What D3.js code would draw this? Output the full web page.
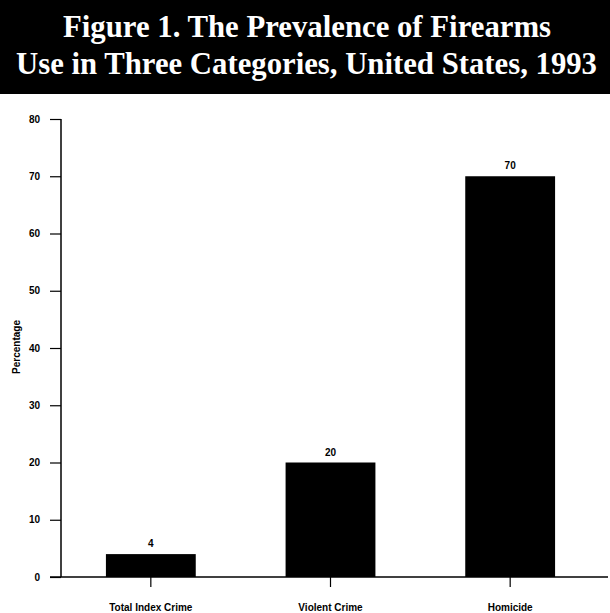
<!DOCTYPE html>
<html>
<head>
<meta charset="utf-8">
<title>Prevalence of Firearms Use</title>
<script src="https://d3js.org/d3.v7.min.js"></script>
<style>
    body{ margin:0; background:#fff; }
    text{ font-family:"Liberation Sans", Arial, sans-serif; font-weight:bold; }
</style>
</head>
<body>
<svg id="chart" width="610" height="613"></svg>
<script>
    // data
    var categories = ["Total Index Crime", "Violent Crime", "Homicide"];
    var percentages = [4, 20, 70];
    var yTicks = [0, 10, 20, 30, 40, 50, 60, 70, 80];
    var titleLines = ["Figure 1. The Prevalence of Firearms", "Use in Three Categories, United States, 1993"];

    var svg = d3.select("#chart");

    /* title band */
    svg.append("rect")
        .attr("x", 0).attr("y", 0)
        .attr("width", 610).attr("height", 94)
        .attr("fill", "#000");

    var titleX = [63, 16], titleEnd = [551, 597], titleY = [37, 74];
    for(var i=0; i<titleLines.length; i++){
        svg.append("text")
            .attr("x", titleX[i])
            .attr("y", titleY[i])
            .attr("textLength", titleEnd[i]-titleX[i])
            .attr("lengthAdjust", "spacingAndGlyphs")
            .style("font-family", "'Liberation Serif', 'Times New Roman', serif")
            .style("font-size", "31px")
            .attr("fill", "#fff")
            .text(titleLines[i]);
    }

    var x = d3.scaleBand()
        .domain(categories)
        .range([61, 600])
        .paddingInner(0.5)
        .paddingOuter(0.25);

    var y = d3.scaleLinear()
        .domain([0, 80])
        .range([577, 119]);

    /* y axis */
    var yAxis = svg.append("g")
        .attr("transform", "translate(61,0)")
        .call(d3.axisLeft(y).tickValues(yTicks).tickSize(11).tickPadding(10));
    yAxis.select(".domain").attr("stroke-width", 1.5).attr("d", "M0,577V119");
    yAxis.selectAll(".tick line").attr("stroke-width", 1.2);
    yAxis.selectAll("text").style("font-size", "10px").attr("fill", "#000");

    /* x axis */
    var xAxis = svg.append("g")
        .attr("transform", "translate(0,577)")
        .call(d3.axisBottom(x).tickSize(10).tickPadding(17));
    xAxis.select(".domain").attr("stroke-width", 1.5).attr("d", "M50,0H608");
    xAxis.selectAll(".tick line").attr("stroke-width", 1.2);
    xAxis.selectAll("text").style("font-size", "10px").attr("fill", "#000");

    /* bars */
    svg.selectAll(".bar")
        .data(percentages)
        .enter().append("rect")
        .attr("class", "bar")
        .attr("x", function(d, i){ return x(categories[i]); })
        .attr("y", function(d){ return y(d); })
        .attr("width", x.bandwidth())
        .attr("height", function(d){ return y(0) - y(d); })
        .attr("fill", "#000");

    svg.selectAll(".val")
        .data(percentages)
        .enter().append("text")
        .attr("class", "val")
        .attr("x", function(d, i){ return x(categories[i]) + x.bandwidth()/2; })
        .attr("y", function(d){ return y(d) - 7; })
        .attr("text-anchor", "middle")
        .style("font-size", "10px")
        .text(function(d){ return d; });

    svg.append("text")
        .attr("transform", "translate(20,347) rotate(-90)")
        .attr("text-anchor", "middle")
        .style("font-size", "10px")
        .text("Percentage");
</script>
</body>
</html>
